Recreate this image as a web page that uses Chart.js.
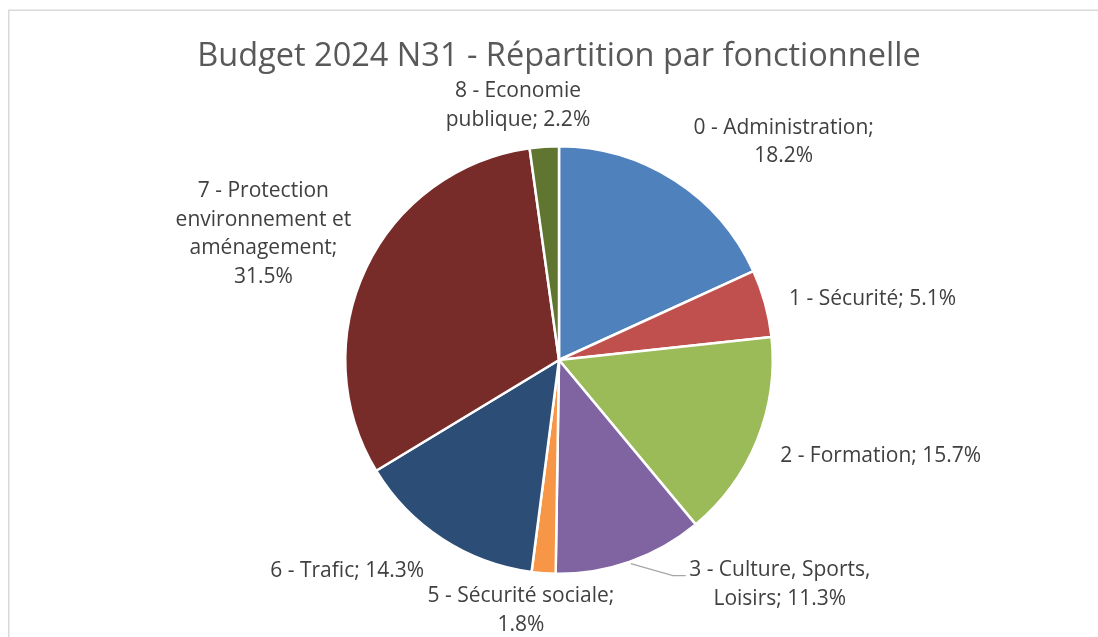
<!DOCTYPE html>
<html><head><meta charset="utf-8">
<script src="https://cdn.jsdelivr.net/npm/chart.js@4/dist/chart.umd.min.js"></script>
<style>html,body{margin:0;padding:0;background:#fff;}#wrap{width:1098px;height:637px;position:relative;}</style>
</head><body><div id="wrap"><canvas id="c" width="1098" height="637"></canvas></div>
<script>
const categories = ["0 - Administration", "1 - Sécurité", "2 - Formation", "3 - Culture, Sports, Loisirs", "5 - Sécurité sociale", "6 - Trafic", "7 - Protection environnement et aménagement", "8 - Economie publique"];
const shares = [18.2, 5.1, 15.7, 11.3, 1.8, 14.3, 31.5, 2.2];
const labelLines = [
  ["0 - Administration;", "18.2%"],
  ["1 - Sécurité; 5.1%"],
  ["2 - Formation; 15.7%"],
  ["3 - Culture, Sports,", "Loisirs; 11.3%"],
  ["5 - Sécurité sociale;", "1.8%"],
  ["6 - Trafic; 14.3%"],
  ["7 - Protection", "environnement et", "aménagement;", "31.5%"],
  ["8 - Economie", "publique; 2.2%"]
];
const chartTitle = 'Budget 2024 N31 - Répartition par fonctionnelle';
const colors = ["#4F81BD", "#C0504D", "#9BBB59", "#8064A2", "#F79646", "#2C4D75", "#772C2A", "#5F7530"];
// label centres relative to pie centre, in radius units
const labelOffsets = [[1.051,-1.02],[1.467,-0.285],[1.505,0.448],[1.033,1.05],[-0.178,1.172],[-0.991,0.985],[-1.383,-0.59],[-0.192,-1.19]];
const leader3 = [[0.336,0.953],[0.533,1.009],[0.593,1.009]];
const FONT = "'Open Sans', 'Noto Sans', sans-serif";

const framePlugin = {
  id: 'frame',
  beforeDraw(chart) {
    const ctx = chart.ctx;
    ctx.save();
    ctx.strokeStyle = '#D9D9D9';
    ctx.lineWidth = 1.5;
    ctx.strokeRect(8.75, 10.25, 1200, 700);
    ctx.restore();
  }
};
const labelPlugin = {
  id: 'outLabels',
  afterDatasetsDraw(chart) {
    const ctx = chart.ctx;
    const arc = chart.getDatasetMeta(0).data[0];
    const cx = arc.x, cy = arc.y, r = arc.outerRadius;
    ctx.save();
    // title
    ctx.fillStyle = '#595959';
    ctx.font = '32.5px ' + FONT;
    ctx.textAlign = 'center';
    ctx.textBaseline = 'middle';
    ctx.fillText(chartTitle, cx, 57);
    // leader line for slice 3
    ctx.strokeStyle = '#A6A6A6';
    ctx.lineWidth = 1.3;
    ctx.beginPath();
    leader3.forEach((p, i) => { const x = cx + p[0]*r, y = cy + p[1]*r; if (i) ctx.lineTo(x, y); else ctx.moveTo(x, y); });
    ctx.stroke();
    ctx.fillStyle = '#404040';
    ctx.font = '21px ' + FONT;
    const lh = 28.5;
    labelLines.forEach((lines, i) => {
      const x = cx + labelOffsets[i][0]*r, y = cy + labelOffsets[i][1]*r;
      const y0 = y - (lines.length - 1) * lh / 2;
      lines.forEach((t, j) => ctx.fillText(t, x, y0 + j*lh));
    });
    ctx.restore();
  }
};

new Chart(document.getElementById('c'), {
  type: 'pie',
  data: { labels: categories, datasets: [{ data: shares, backgroundColor: colors, borderColor: '#FFFFFF', borderWidth: 2.5 }] },
  options: {
    responsive: false,
    animation: false,
    rotation: 0,
    layout: { padding: { top: 145, bottom: 62, left: 344, right: 324 } },
    plugins: {
      legend: { display: false },
      tooltip: { enabled: false },
      title: { display: false }
    }
  },
  plugins: [framePlugin, labelPlugin]
});
</script></body></html>
